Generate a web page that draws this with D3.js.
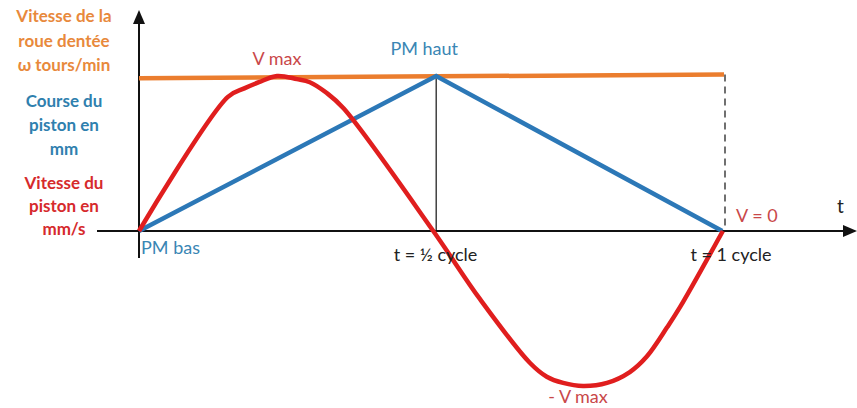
<!DOCTYPE html>
<html><head><meta charset="utf-8">
<script src="https://cdn.jsdelivr.net/npm/d3@7"></script>
<style>
html,body{margin:0;padding:0;background:#fff;}
svg{display:block;font-family:Lato, "Open Sans", sans-serif;}
</style></head>
<body>
<svg id="chart" width="857" height="408"></svg>
<script>
// ---- data (t in cycles, values normalised to max) ----
const orangeT = [0, 1];
const orangeV = [0.985, 1.01];
const blueT = [0, 0.508, 0.997];
const blueV = [0, 1, 0];
const redT = [0, 0.152, 0.18, 0.205, 0.236, 0.27, 0.292, 0.321, 0.35, 0.503, 0.583, 0.668, 0.697, 0.725, 0.759, 0.800, 0.839, 0.868, 0.903, 0.925, 0.998];
const redV = [0, 0.865, 0.92, 0.96, 1.0, 0.98, 0.96, 0.89, 0.79, 0, -0.44, -0.85, -0.94, -0.98, -1.0, -0.98, -0.91, -0.81, -0.62, -0.49, 0];
const leftLabels = [
  {lines:["Vitesse de la","roue dentée","ω tours/min"], c:"orange"},
  {lines:["Course du","piston en","mm"], c:"blue"},
  {lines:["Vitesse du","piston en","mm/s"], c:"red"}
];
const pointLabels = {vmax:"V max", vmin:"- V max", haut:"PM haut", bas:"PM bas", v0:"V = 0", half:"t = ½ cycle", one:"t = 1 cycle", t:"t"};

const col = {orange:"#EB7D2E", blue:"#2C78B7", red:"#E01E1E"};
const txt = {orange:"#E8893C", blue:"#2F80AE", red:"#D62A2C"};

const svg = d3.select("#chart");
const x = d3.scaleLinear().domain([0,1]).range([139,724]);
const y = d3.scaleLinear().domain([-1,1]).range([386,76]);

// axes
const ax = svg.append("g");
ax.append("line").attr("x1",x(0)).attr("x2",x(0)).attr("y1",y(1)-62).attr("y2",y(0)+27)
  .attr("stroke","#111").attr("stroke-width",2);
ax.append("path").attr("d",`M${x(0)},${y(1)-66} l-6,14 l12,0 z`).attr("fill","#111");
ax.append("line").attr("x1",x(0)-42).attr("x2",x(1)+122).attr("y1",y(0)).attr("y2",y(0))
  .attr("stroke","#111").attr("stroke-width",2);
ax.append("path").attr("d",`M${x(1)+133},${y(0)} l-14,-6 l0,12 z`).attr("fill","#111");

// reference lines
svg.append("line").attr("x1",x(blueT[1])).attr("x2",x(blueT[1])).attr("y1",y(1)).attr("y2",y(0))
  .attr("stroke","#111").attr("stroke-width",1.2);
svg.append("line").attr("x1",x(1)+1).attr("x2",x(1)+1).attr("y1",y(orangeV[1])).attr("y2",y(0))
  .attr("stroke","#111").attr("stroke-width",1.2).attr("stroke-dasharray","7,5");

const line = d3.line().x(d=>x(d[0])).y(d=>y(d[1]));
svg.append("path").datum(d3.zip(orangeT,orangeV)).attr("d",line)
  .attr("fill","none").attr("stroke",col.orange).attr("stroke-width",4.5);
svg.append("path").datum(d3.zip(blueT,blueV)).attr("d",line)
  .attr("fill","none").attr("stroke",col.blue).attr("stroke-width",4.5).attr("stroke-linejoin","miter");
svg.append("path").datum(d3.zip(redT,redV)).attr("d",line.curve(d3.curveCatmullRom.alpha(0.5)))
  .attr("fill","none").attr("stroke",col.red).attr("stroke-width",4.5).attr("stroke-linejoin","round");

// left labels
leftLabels.forEach((g,gi)=>{
  g.lines.forEach((s,li)=>{
    svg.append("text").attr("x",64).attr("y",[22,107,189][gi]+li*[24.5,24,23][gi])
      .attr("text-anchor","middle").attr("font-weight","bold").attr("font-size",17)
      .attr("fill",txt[g.c]).text(s);
  });
});

// point labels
const lab = (s,px,py,fill,anchor="middle")=>svg.append("text").attr("x",px).attr("y",py)
  .attr("text-anchor",anchor).attr("font-size",18).attr("fill",fill).text(s);
lab(pointLabels.vmax, x(redT[4]), y(1)-11, "#C9484A");
lab(pointLabels.vmin, x(redT[14])-5, y(-1)+17, "#C9484A");
lab(pointLabels.haut, x(blueT[1])-12, y(1)-21, "#3A86B4");
lab(pointLabels.bas, x(0)+2, y(0)+23, "#3A86B4", "start");
lab(pointLabels.v0, x(1)+12, y(0)-9, "#C9484A", "start");
lab(pointLabels.half, x(0.5)+4, y(0)+30, "#222");
lab(pointLabels.one, x(1)+7, y(0)+30, "#222");
lab(pointLabels.t, x(1)+113, y(0)-18, "#222", "start").attr("font-size",19);
</script>
</body></html>
